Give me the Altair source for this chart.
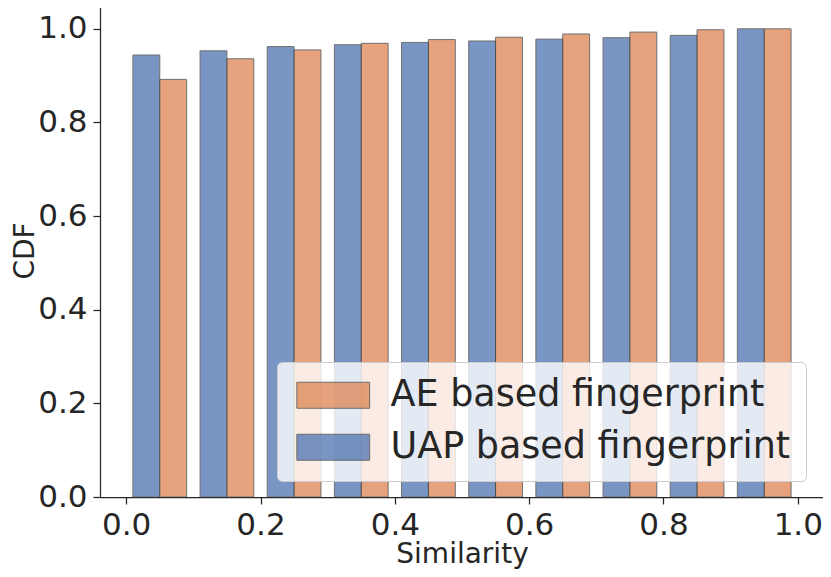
import altair as alt
import pandas as pd

# Histogram bins (lower edges), bin width 0.1
bin_lo = [0.0, 0.1, 0.2, 0.3, 0.4, 0.5, 0.6, 0.7, 0.8, 0.9]
# CDF values
uap = [0.944, 0.953, 0.962, 0.966, 0.971, 0.974, 0.978, 0.981, 0.986, 1.0]
ae = [0.892, 0.936, 0.955, 0.969, 0.977, 0.982, 0.989, 0.993, 0.998, 1.0]
series = ["AE based fingerprint", "UAP based fingerprint"]
x_ticks = [0.0, 0.2, 0.4, 0.6, 0.8, 1.0]
y_ticks = [0.0, 0.2, 0.4, 0.6, 0.8, 1.0]

bin_width = 0.1
rwidth = 0.8
bar_w = bin_width * rwidth / 2
rows = []
for i, lo in enumerate(bin_lo):
    start = lo + bin_width * (1 - rwidth) / 2
    rows.append({"series": series[1], "x": start, "x2": start + bar_w, "y": uap[i]})
    rows.append({"series": series[0], "x": start + bar_w, "x2": start + 2 * bar_w, "y": ae[i]})
df = pd.DataFrame(rows)

FONT = "DejaVu Sans"
TXT = "#262626"
H = 493

chart = alt.Chart(df).mark_bar(
    opacity=0.75, stroke="#404040", strokeWidth=1
).encode(
    x=alt.X("x:Q", scale=alt.Scale(domain=[-0.039, 1.039], nice=False, zero=False),
            axis=alt.Axis(title="Similarity", values=x_ticks, format=".1f",
                          titleY=65, titleBaseline="alphabetic")),
    x2="x2:Q",
    y=alt.Y("y:Q", scale=alt.Scale(domain=[0, 1.053], nice=False),
            axis=alt.Axis(title="CDF", values=y_ticks, format=".1f",
                          titleX=-67, titleY=H / 2, titleBaseline="alphabetic",
                          titleAlign="center")),
    y2=alt.datum(0),
    color=alt.Color("series:N",
                    scale=alt.Scale(domain=series, range=["#DD8452", "#4C72B0"]),
                    legend=alt.Legend(
                        orient="none", legendX=177, legendY=358, title=None,
                        symbolType="M-2.8,-1H2.8V1H-2.8Z", symbolSize=676,
                        symbolOffset=23,
                        symbolStrokeColor="#404040", symbolStrokeWidth=1,
                        symbolOpacity=0.75,
                        labelFontSize=36.5, labelFont=FONT, labelColor=TXT,
                        labelOffset=39, rowPadding=15, padding=15,
                        fillColor="rgba(255,255,255,0.8)", strokeColor="#cccccc",
                        cornerRadius=5, labelLimit=800)),
).properties(
    width=724, height=H,
    autosize=alt.AutoSizeParams(type="none"),
    padding={"left": 92, "top": -4, "right": -1, "bottom": 72},
).configure_view(
    stroke=None
).configure_axis(
    grid=False, domainColor=TXT, domainWidth=1.25, tickColor=TXT, tickWidth=1.25,
    tickSize=7, labelFont=FONT, labelFontSize=31, labelColor=TXT, labelPadding=6,
    titleFont=FONT, titleFontSize=28, titleColor=TXT, titleFontWeight="normal",
)

chart.save("out.html", embed_options={"renderer": "svg", "actions": False})
